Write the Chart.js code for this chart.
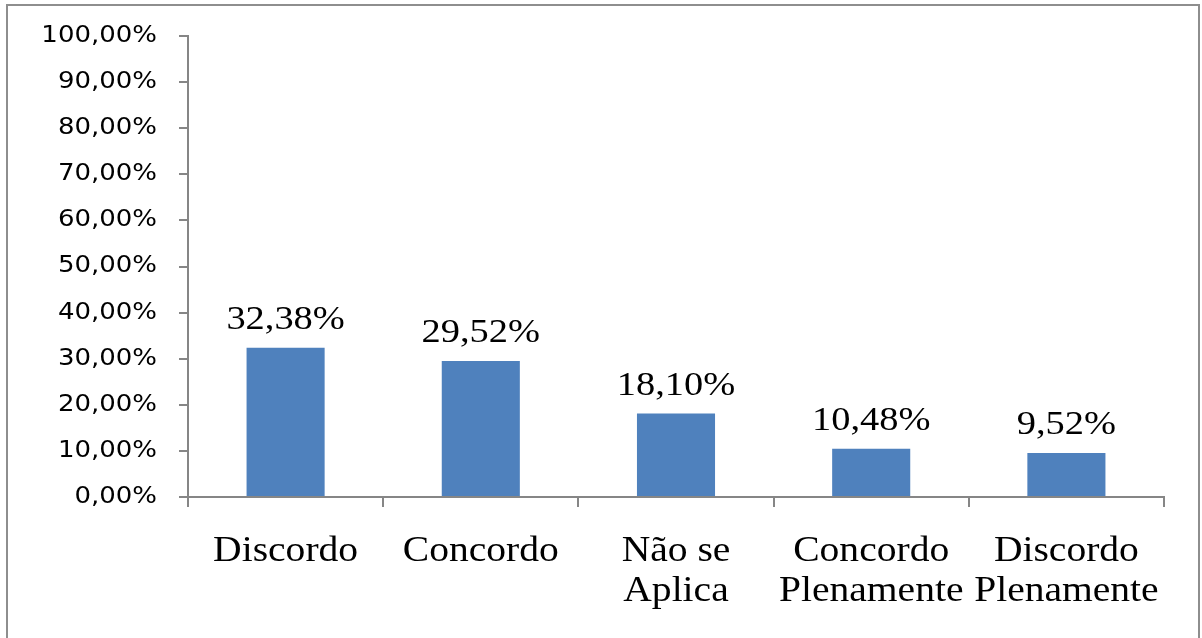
<!DOCTYPE html>
<html lang="pt">
<head>
<meta charset="utf-8">
<title>Respostas</title>
<script src="https://cdn.jsdelivr.net/npm/chart.js@4/dist/chart.umd.min.js"></script>
<style>
  html, body { margin: 0; padding: 0; background: #fff; }
  #chart { display: block; }
</style>
</head>
<body>
<canvas id="chart" width="1202" height="638"></canvas>
<script>
const categories = ['Discordo', 'Concordo', ['Não se', 'Aplica'], ['Concordo', 'Plenamente'], ['Discordo', 'Plenamente']];
const percentages = [32.38, 29.52, 18.10, 10.48, 9.52];
const yTicks = { min: 0, max: 100, step: 10 };

const axisGray = '#868686';
const barBlue = '#4F81BD';
const serif = '"Liberation Serif", "Times New Roman", serif';
// all text on this chart is set a little wide
const textStretch = 1.13;

const pctLabel = v => v.toFixed(2).replace('.', ',') + '%';

const canvas = document.getElementById('chart');
const ctx2d = canvas.getContext('2d');
const rawFillText = ctx2d.fillText.bind(ctx2d);
ctx2d.fillText = function (text, x, y) {
  this.save();
  this.translate(x, y);
  this.scale(textStretch, 1);
  rawFillText(text, 0, 0);
  this.restore();
};

// white background and the frame around the whole chart
const framePlugin = {
  id: 'frame',
  beforeDraw(chart) {
    const ctx = chart.ctx;
    ctx.save();
    ctx.fillStyle = '#fff';
    ctx.fillRect(0, 0, chart.width, chart.height);
    ctx.strokeStyle = '#8e8e8e';
    ctx.lineWidth = 2;
    ctx.strokeRect(7, 5, 1192, 660);
    ctx.restore();
  }
};

// value printed above each bar
const valueLabels = {
  id: 'valueLabels',
  afterDatasetsDraw(chart) {
    const ctx = chart.ctx;
    const meta = chart.getDatasetMeta(0);
    ctx.save();
    ctx.font = '34px ' + serif;
    ctx.fillStyle = '#000';
    ctx.textAlign = 'center';
    ctx.textBaseline = 'alphabetic';
    meta.data.forEach((bar, i) => {
      ctx.fillText(pctLabel(percentages[i]), bar.x, bar.y - 19);
    });
    ctx.restore();
  }
};

new Chart(canvas, {
  type: 'bar',
  data: {
    labels: categories,
    datasets: [{
      data: percentages,
      backgroundColor: barBlue,
      borderWidth: 0,
      barPercentage: 0.4,
      categoryPercentage: 1
    }]
  },
  options: {
    responsive: false,
    animation: false,
    layout: {
      autoPadding: false,
      padding: { left: 0, top: 36, right: 38, bottom: 0 }
    },
    plugins: {
      legend: { display: false },
      tooltip: { enabled: false }
    },
    scales: {
      x: {
        border: { display: true, color: axisGray, width: 2 },
        grid: {
          offset: true,
          drawOnChartArea: false,
          drawTicks: true,
          tickLength: 10,
          color: axisGray,
          lineWidth: 2
        },
        ticks: {
          color: '#000',
          padding: 25,
          maxRotation: 0,
          autoSkip: false,
          font: { family: serif, size: 35, lineHeight: 40 / 35 }
        },
        afterFit(scale) { scale.height = 141; }
      },
      y: {
        min: yTicks.min,
        max: yTicks.max,
        border: { display: true, color: axisGray, width: 2 },
        grid: {
          drawOnChartArea: false,
          drawTicks: true,
          tickLength: 9,
          color: axisGray,
          lineWidth: 2
        },
        ticks: {
          stepSize: yTicks.step,
          color: '#000',
          padding: 22,
          font: { family: '"DejaVu Sans", Verdana, sans-serif', size: 23 },
          callback: v => pctLabel(v)
        },
        afterFit(scale) { scale.width = 188; }
      }
    }
  },
  plugins: [framePlugin, valueLabels]
});
</script>
</body>
</html>
